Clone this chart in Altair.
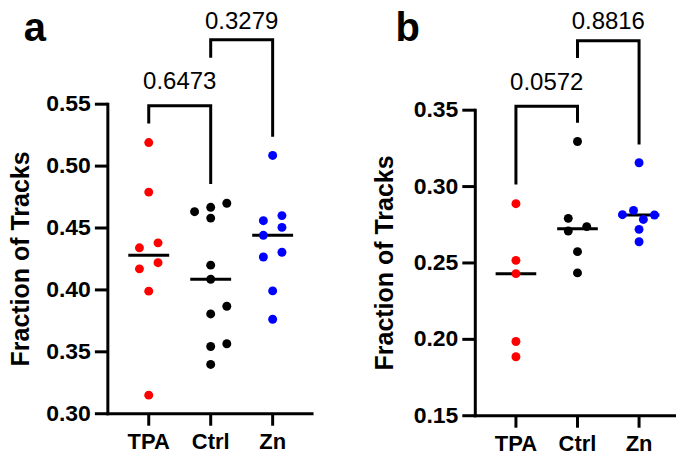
import altair as alt
import pandas as pd

FONT = "Liberation Sans"
CATEGORIES = ["TPA", "Ctrl", "Zn"]

# ---------------- panel a ----------------
a_tpa = [0.519, 0.479, 0.438, 0.434, 0.422, 0.417, 0.399, 0.315]
a_tpa_jit = [0, 0, 0.15, -0.15, 0.15, -0.15, 0, 0]
a_ctrl = [0.470, 0.4667, 0.4632, 0.458, 0.420, 0.4086, 0.3868, 0.3806, 0.3565, 0.3543, 0.3398]
a_ctrl_jit = [0.26, 0, -0.26, 0, 0, 0, 0.26, 0, 0.26, 0, 0]
a_zn = [0.5086, 0.460, 0.4559, 0.4505, 0.4441, 0.4304, 0.4266, 0.3992, 0.3763]
a_zn_jit = [0, 0.15, -0.15, 0.15, -0.15, 0.15, -0.15, 0, 0]
a_colors = ["#FF0000", "#000000", "#0000FF"]
a_yticks = [0.30, 0.35, 0.40, 0.45, 0.50, 0.55]
a_br_left = [0, 1]
a_br_right = [1, 2]
a_br_top = [0.5487, 0.602]
a_br_left_end = [0.5344, 0.5876]
a_br_right_end = [0.4855, 0.5237]
a_pvals = ["0.6473", "0.3279"]
a_pval_y = [0.5619, 0.6111]

# ---------------- panel b ----------------
b_tpa = [0.2888, 0.2517, 0.243, 0.1986, 0.1886]
b_tpa_jit = [0, 0, 0, 0, 0]
b_ctrl = [0.3295, 0.2792, 0.2738, 0.2709, 0.2574, 0.2435]
b_ctrl_jit = [0, -0.15, 0.15, -0.15, 0, 0]
b_zn = [0.3156, 0.2844, 0.2816, 0.2814, 0.2785, 0.2720, 0.2639]
b_zn_jit = [0, -0.09, -0.27, 0.25, 0.07, 0, 0]
b_colors = ["#FF4242", "#000000", "#0000FF"]
b_yticks = [0.15, 0.20, 0.25, 0.30, 0.35]
b_br_left = [0, 1]
b_br_right = [1, 2]
b_br_top = [0.3526, 0.3955]
b_br_left_end = [0.3014, 0.3842]
b_br_right_end = [0.3417, 0.3276]
b_pvals = ["0.0572", "0.8816"]
b_pval_y = [0.3633, 0.4032]

Y_TITLE = "Fraction of Tracks"
HALF = 0.33
YTICK_PX = 13
XTICK_PX = 12
LW = 3  # axis line width, px


def make_panel(groups, jits, colors, yticks, br_l, br_r, br_top, br_le, br_re,
               pvals, pval_y, letter, letter_x, letter_y, xdomain, width, height, top_gap, title_off):
    rows = []
    for i, (vals, js) in enumerate(zip(groups, jits)):
        for v, j in zip(vals, js):
            rows.append({"group": CATEGORIES[i], "idx": i, "value": v, "jit": j})
    pts = pd.DataFrame(rows)

    brows = []
    for k in range(len(br_l)):
        seq = [(br_l[k], br_le[k]), (br_l[k], br_top[k]), (br_r[k], br_top[k]), (br_r[k], br_re[k])]
        for o, (xx, yy) in enumerate(seq):
            brows.append({"b": k, "o": o, "x": xx, "y": yy})
    br = pd.DataFrame(brows)
    ptxt = pd.DataFrame({
        "x": [(l + r) / 2 for l, r in zip(br_l, br_r)],
        "y": pval_y,
        "t": pvals,
    })
    lt = pd.DataFrame({"x": [letter_x], "y": [letter_y], "t": [letter]})

    # axis geometry (px -> data units through the panel scales)
    x0, x1 = xdomain
    y0, y1 = yticks[0], yticks[-1]
    xunit = width / (x1 - x0)
    yunit = (height - top_gap) / (y1 - y0)
    hx = (LW / 2) / xunit
    hy = (LW / 2) / yunit
    rects = [
        # y axis line
        {"x": x0 - hx, "x2": x0 + hx, "y": y0 - hy, "y2": y1 + hy},
        # x axis line
        {"x": x0 - hx, "x2": x1, "y": y0 - hy, "y2": y0 + hy},
    ]
    for v in yticks:
        rects.append({"x": x0 - YTICK_PX / xunit, "x2": x0, "y": v - hy, "y2": v + hy})
    for i in range(len(CATEGORIES)):
        rects.append({"x": i - hx, "x2": i + hx, "y": y0 - XTICK_PX / yunit, "y2": y0})
    axis_df = pd.DataFrame(rects)
    ylab = pd.DataFrame({"x": [x0 - (YTICK_PX + 4) / xunit] * len(yticks), "y": yticks,
                         "t": [f"{v:.2f}" for v in yticks]})
    xlab = pd.DataFrame({"x": list(range(len(CATEGORIES))),
                         "y": [y0 - (XTICK_PX + 6) / yunit] * len(CATEGORIES), "t": CATEGORIES})
    ytit = pd.DataFrame({"x": [x0 - title_off / xunit], "y": [(y0 + y1) / 2], "t": [Y_TITLE]})

    xs = alt.Scale(domain=list(xdomain), nice=False, zero=False)
    ys = alt.Scale(domain=[y0, y1], range=[height, top_gap], nice=False, zero=False)

    def X(f):
        return alt.X(f, scale=xs, axis=None)

    def Y(f):
        return alt.Y(f, scale=ys, axis=None)

    axis_m = alt.Chart(axis_df).mark_rect(color="black", opacity=1, strokeWidth=0).encode(
        x=X("x:Q"), x2="x2:Q", y=Y("y:Q"), y2="y2:Q"
    )
    ylab_m = alt.Chart(ylab).mark_text(font=FONT, fontSize=23, fontWeight="bold", color="black",
                                       align="right", baseline="middle").encode(
        x=X("x:Q"), y=Y("y:Q"), text="t:N"
    )
    xlab_m = alt.Chart(xlab).mark_text(font=FONT, fontSize=22, fontWeight="bold", color="black",
                                       align="center", baseline="top").encode(
        x=X("x:Q"), y=Y("y:Q"), text="t:N"
    )
    ytit_m = alt.Chart(ytit).mark_text(font=FONT, fontSize=25, fontWeight="bold", color="black",
                                       align="center", baseline="alphabetic", angle=270).encode(
        x=X("x:Q"), y=Y("y:Q"), text="t:N"
    )

    points = alt.Chart(pts).transform_calculate(xp="datum.idx + datum.jit").mark_circle(size=80, opacity=1).encode(
        x=X("xp:Q"),
        y=Y("value:Q"),
        color=alt.Color("group:N", scale=alt.Scale(domain=CATEGORIES, range=colors), legend=None),
    )

    med = alt.Chart(pts).transform_aggregate(
        med="median(value)", groupby=["idx"]
    ).transform_calculate(
        x1=f"datum.idx - {HALF}", x2=f"datum.idx + {HALF}"
    ).mark_rule(color="black", strokeWidth=3).encode(
        x=X("x1:Q"), x2="x2:Q", y=Y("med:Q")
    )

    brk = alt.Chart(br).mark_line(color="black", strokeWidth=3, strokeJoin="miter", strokeCap="butt").encode(
        x=X("x:Q"), y=Y("y:Q"), detail="b:N", order="o:Q"
    )

    ptext = alt.Chart(ptxt).mark_text(font=FONT, fontSize=24, color="black", baseline="alphabetic", align="center").encode(
        x=X("x:Q"), y=Y("y:Q"), text="t:N"
    )

    letter_m = alt.Chart(lt).mark_text(font=FONT, fontSize=40, fontWeight="bold", color="black",
                                       baseline="alphabetic", align="center").encode(
        x=X("x:Q"), y=Y("y:Q"), text="t:N"
    )

    return alt.layer(ylab_m, xlab_m, ytit_m, brk, med, points, ptext, letter_m, axis_m).properties(
        width=width, height=height)


pa = make_panel([a_tpa, a_ctrl, a_zn], [a_tpa_jit, a_ctrl_jit, a_zn_jit], a_colors, a_yticks,
                a_br_left, a_br_right, a_br_top, a_br_left_end, a_br_right_end, a_pvals, a_pval_y,
                "a", -1.84, 0.601, (-0.66, 2.66), 206, 310, 0, 79)
pb = make_panel([b_tpa, b_ctrl, b_zn], [b_tpa_jit, b_ctrl_jit, b_zn_jit], b_colors, b_yticks,
                b_br_left, b_br_right, b_br_top, b_br_left_end, b_br_right_end, b_pvals, b_pval_y,
                "b", -1.76, 0.395, (-0.66, 2.6), 201, 312, 6, 82)

chart = alt.hconcat(pa, pb, spacing=58).properties(
    padding={"left": 0, "top": 0, "right": 0, "bottom": 0}
).configure(
    background="white",
    view=alt.ViewConfig(stroke="transparent"),
)

chart.save("out.html", embed_options={"renderer": "svg", "actions": False})
